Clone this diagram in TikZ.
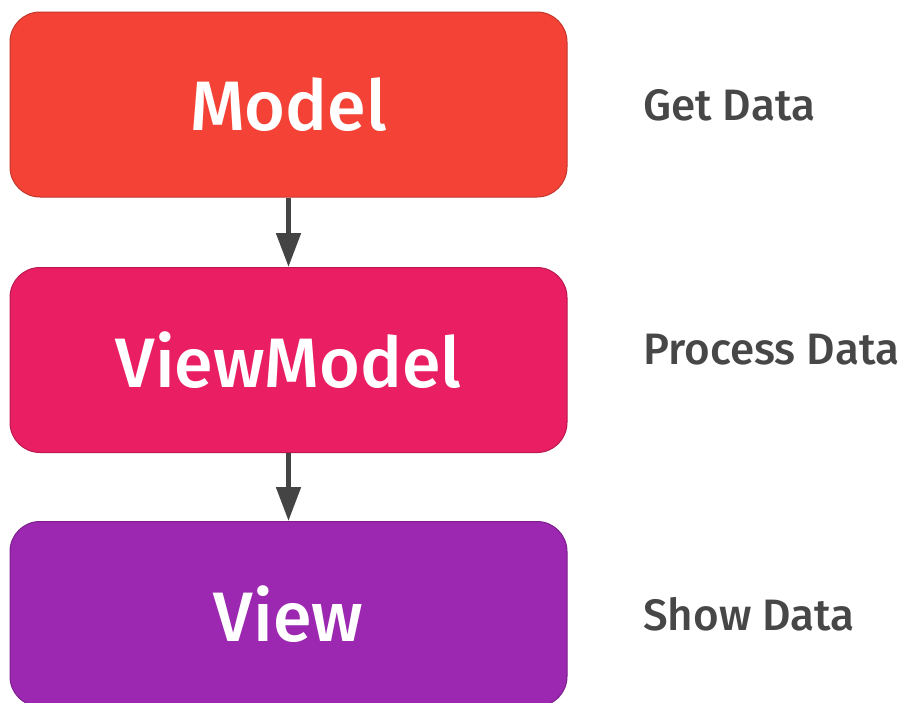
\documentclass[tikz,border=0pt]{standalone}
\usepackage{fontspec}
\setmainfont{Fira Sans}[UprightFont=* Medium]
\usepackage{tikz}
\usetikzlibrary{arrows.meta}
\usetikzlibrary{positioning}

\definecolor{modelred}{HTML}{F44336}
\definecolor{vmpink}{HTML}{E91E63}
\definecolor{viewpurple}{HTML}{9C27B0}
\definecolor{textgray}{HTML}{474747}

\tikzset{
  layer/.style={rounded corners=30pt,minimum width=557pt,minimum height=185pt,
    line width=1pt,text=white,font=\fontsize{70}{80}\selectfont},
  role/.style={anchor=west,text=textgray,font=\fontsize{44}{50}\selectfont,inner sep=0pt}
}

\begin{document}
\begin{tikzpicture}[line cap=round,line join=round,>={Triangle[length=34pt,width=24pt]},x=1pt,y=-1pt]
\useasboundingbox (0,0) rectangle (908,702);
\node [layer,fill=modelred,draw=modelred!80!black] (model) at (288.5,104.5) {Model};
\node [layer,fill=vmpink,draw=vmpink!80!black] (viewmodel) at (288.5,360) {ViewModel};
\node [layer,fill=viewpurple,draw=viewpurple!80!black] (view) at (288.5,614) {View};
\draw [->,line width=5pt,line cap=butt,textgray!95!black] (model) -- (viewmodel);
\draw [->,line width=5pt,line cap=butt,textgray!95!black] (viewmodel) -- (view);
\node [role] (get) at (643,105) {Get Data};
\node [role] (process) at (643,350) {Process Data};
\node [role] (show) at (643,614) {Show Data};
\end{tikzpicture}
\end{document}
